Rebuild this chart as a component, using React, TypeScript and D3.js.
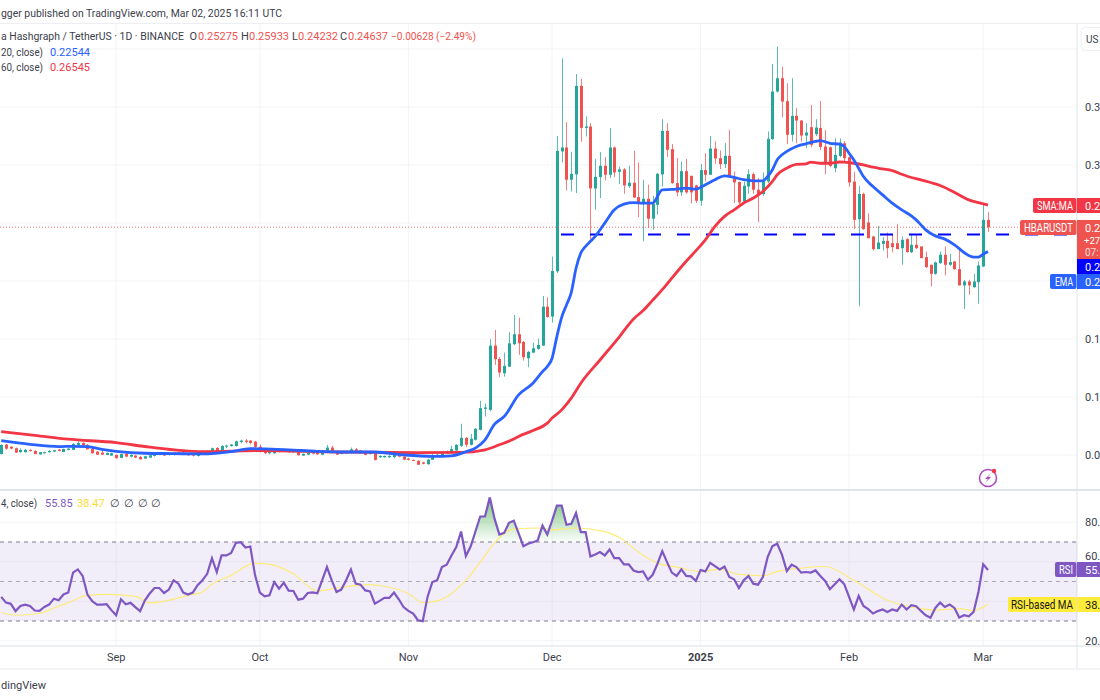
import React from 'react'
import * as d3 from 'd3'

const firstDay = new Date(Date.UTC(2024, 7, 8))

// daily candles, one per day from Aug 8 2024 to Mar 2 2025
const opens = [
  .0509,.0590,.0572,.0558,.0524,.0524,.0544,.0535,.0506,.0515,
  .0524,.0529,.0547,.0526,.0544,.0544,.0587,.0604,.0587,.0552,
  .0529,.0521,.0501,.0495,.0501,.0475,.0512,.0486,.0495,.0483,
  .0469,.0478,.0492,.0512,.0506,.0501,.0501,.0521,.0521,.0509,
  .0506,.0492,.0512,.0515,.0526,.0561,.0532,.0572,.0578,.0578,
  .0613,.0624,.0624,.0615,.0572,.0538,.0515,.0515,.0544,.0532,
  .0549,.0524,.0529,.0495,.0503,.0524,.0524,.0503,.0529,.0564,
  .0532,.0509,.0515,.0526,.0549,.0538,.0524,.0509,.0515,.0481,
  .0481,.0481,.0481,.0503,.0486,.0469,.0458,.0450,.0436,.0421,
  .0459,.0488,.0488,.0516,.0516,.0539,.0579,.0648,.0588,.0631,
  .0717,.0898,.0889,.1443,.1328,.1205,.1262,.1455,.1541,.1475,
  .1334,.1383,.1415,.1443,.1779,.1693,.2083,.3117,.3151,.2873,
  .2919,.3682,.3320,.3332,.2798,.2896,.2993,.2916,.3151,.2941,
  .2962,.2818,.2847,.2723,.2672,.2709,.2537,.2657,.2919,.3294,
  .3137,.2844,.2764,.2947,.2907,.2824,.2692,.2956,.2916,.3142,
  .3059,.3007,.3079,.2896,.2853,.2686,.2815,.2921,.2787,.2749,
  .2858,.3223,.3633,.3748,.3550,.3260,.3424,.3383,.3254,.3326,
  .3266,.3319,.3159,.3153,.2972,.3078,.3187,.3067,.2857,.2533,
  .2751,.2504,.2384,.2275,.2320,.2346,.2326,.2326,.2283,.2361,
  .2249,.2312,.2298,.2206,.2140,.2062,.2154,.2226,.2140,.2168,
  .2102,.1962,.1996,.1947,.1990,.2125,.25275,
]
const highs = [
  .0592,.0595,.0575,.0564,.0558,.0552,.0549,.0541,.0526,.0529,
  .0544,.0544,.0552,.0555,.0561,.0604,.0618,.0610,.0595,.0561,
  .0535,.0538,.0521,.0521,.0503,.0512,.0515,.0506,.0501,.0492,
  .0492,.0503,.0512,.0518,.0512,.0518,.0526,.0526,.0524,.0515,
  .0512,.0521,.0538,.0541,.0564,.0567,.0584,.0590,.0595,.0624,
  .0633,.0638,.0630,.0621,.0592,.0544,.0538,.0552,.0549,.0552,
  .0552,.0541,.0538,.0515,.0524,.0529,.0538,.0544,.0587,.0581,
  .0538,.0532,.0538,.0564,.0561,.0544,.0529,.0526,.0521,.0498,
  .0495,.0498,.0506,.0506,.0492,.0475,.0460,.0456,.0442,.0468,
  .0510,.0516,.0531,.0539,.0579,.0594,.0769,.0654,.0680,.0731,
  .0967,.0944,.1498,.1578,.1343,.1383,.1558,.1707,.1684,.1483,
  .1397,.1469,.1503,.1871,.1859,.2210,.3249,.3920,.3369,.3114,
  .3785,.3742,.3418,.3361,.3053,.3111,.3068,.3317,.3160,.2987,
  .2973,.2993,.3122,.3022,.2873,.2830,.2735,.2930,.3395,.3360,
  .3180,.3059,.3030,.3051,.2907,.2830,.3008,.3102,.3249,.3203,
  .3125,.3188,.3303,.2944,.2858,.2858,.2964,.2936,.2887,.2936,
  .3289,.3871,.4021,.3848,.3705,.3748,.3490,.3389,.3361,.3518,
  .3395,.3552,.3302,.3159,.3230,.3230,.3207,.3072,.2943,.2820,
  .2762,.2584,.2389,.2475,.2378,.2418,.2398,.2490,.2384,.2369,
  .2398,.2398,.2298,.2254,.2140,.2168,.2254,.2298,.2234,.2174,
  .2269,.2010,.2010,.2062,.2168,.2656,.25933,
]
const lows = [
  .0506,.0544,.0549,.0518,.0521,.0521,.0529,.0506,.0503,.0512,
  .0521,.0526,.0532,.0524,.0541,.0541,.0584,.0578,.0547,.0512,
  .0501,.0501,.0498,.0492,.0469,.0472,.0481,.0478,.0472,.0458,
  .0466,.0475,.0486,.0498,.0492,.0495,.0495,.0503,.0503,.0492,
  .0489,.0486,.0506,.0509,.0521,.0524,.0526,.0558,.0572,.0572,
  .0601,.0598,.0592,.0561,.0521,.0509,.0506,.0509,.0521,.0526,
  .0518,.0518,.0495,.0492,.0498,.0506,.0501,.0498,.0524,.0521,
  .0501,.0506,.0509,.0521,.0524,.0512,.0498,.0503,.0452,.0475,
  .0475,.0475,.0475,.0481,.0455,.0452,.0446,.0414,.0420,.0416,
  .0456,.0482,.0482,.0510,.0510,.0533,.0568,.0568,.0582,.0625,
  .0711,.0832,.0875,.1277,.1171,.1176,.1257,.1446,.1363,.1314,
  .1257,.1377,.1406,.1440,.1684,.1641,.2069,.3022,.2781,.2772,
  .2758,.3200,.3246,.2356,.2614,.2715,.2867,.2887,.2896,.2835,
  .2752,.2801,.2715,.2551,.2342,.2456,.2442,.2571,.2815,.3068,
  .2838,.2729,.2735,.2752,.2669,.2672,.2649,.2858,.2916,.3010,
  .2964,.2973,.2896,.2672,.2657,.2672,.2752,.2752,.2508,.2735,
  .2844,.3217,.3625,.3412,.3180,.3203,.3188,.3203,.3145,.3154,
  .3251,.3129,.2920,.2981,.2937,.3067,.3029,.2814,.2447,.1781,
  .2441,.2369,.2263,.2275,.2263,.2197,.2246,.2275,.2140,.2246,
  .2240,.2275,.2197,.2111,.1953,.2054,.2148,.2048,.2131,.2097,
  .1962,.1758,.1881,.1939,.1804,.2120,.24232,
]
const closes = [
  .0587,.0555,.0555,.0521,.0544,.0544,.0535,.0509,.0524,.0524,
  .0535,.0541,.0535,.0552,.0555,.0595,.0604,.0584,.0549,.0515,
  .0503,.0503,.0518,.0515,.0472,.0509,.0486,.0501,.0478,.0463,
  .0489,.0498,.0506,.0501,.0495,.0515,.0521,.0509,.0509,.0498,
  .0495,.0512,.0526,.0532,.0558,.0532,.0578,.0581,.0590,.0618,
  .0624,.0613,.0604,.0570,.0526,.0515,.0529,.0549,.0526,.0547,
  .0524,.0535,.0498,.0509,.0518,.0512,.0506,.0532,.0564,.0526,
  .0503,.0526,.0532,.0549,.0526,.0515,.0501,.0521,.0458,.0492,
  .0492,.0492,.0503,.0486,.0460,.0458,.0452,.0416,.0424,.0459,
  .0493,.0502,.0516,.0531,.0551,.0588,.0648,.0588,.0640,.0726,
  .0904,.0910,.1443,.1326,.1211,.1268,.1463,.1541,.1463,.1343,
  .1389,.1420,.1449,.1779,.1690,.2086,.3122,.3151,.2873,.2924,
  .3682,.3320,.3332,.2798,.2898,.2993,.2916,.3151,.2936,.2962,
  .2824,.2847,.2720,.2672,.2709,.2537,.2663,.2924,.3294,.3131,
  .2844,.2764,.2947,.2764,.2764,.2692,.2956,.2916,.3142,.3056,
  .3007,.3079,.2896,.2850,.2677,.2821,.2921,.2787,.2749,.2858,
  .3226,.3633,.3748,.3547,.3260,.3424,.3383,.3254,.3280,.3174,
  .3323,.3155,.3015,.2992,.3087,.3193,.3058,.2849,.2527,.2751,
  .2447,.2369,.2275,.2332,.2346,.2283,.2292,.2275,.2355,.2249,
  .2312,.2283,.2197,.2120,.2062,.2160,.2226,.2140,.2163,.2102,
  .1962,.1996,.1962,.1996,.2134,.2527,.24637,
]

// moving averages, read at these day numbers (day 0 = firstDay)
const emaDays = [0,6,12,15,18,21,24,30,36,42,48,52,55,60,66,72,78,84,90,94,97,99,101,103,105,108,111,113,114,115,116,117,118,119,120,121,122,123,124,126,128,130,132,134,136,138,140,143,145,147,149,151,153,155,157,159,160,161,162,163,164,166,168,170,171,173,175,176,177,178,179,180,182,184,186,188,190,191,192,193,195,197,199,201,203,204,205,206]
const emaValues = [.0624,.0592,.0572,.0575,.0572,.0549,.0532,.0515,.0512,.0509,.0529,.0555,.0552,.0544,.0532,.0526,.0526,.0501,.0488,.0493,.0528,.0559,.0631,.0766,.0832,.1018,.1119,.1219,.1262,.1334,.1521,.1687,.1793,.1900,.2110,.2241,.2299,.2342,.2385,.2499,.2614,.2663,.2675,.2672,.2672,.2786,.2789,.2801,.2792,.2830,.2873,.2907,.2893,.2873,.2864,.2864,.2901,.2959,.3045,.3088,.3117,.3160,.3183,.3203,.3210,.3187,.3179,.3159,.3101,.3044,.2972,.2900,.2814,.2742,.2671,.2613,.2562,.2527,.2484,.2441,.2389,.2361,.2312,.2246,.2206,.2206,.2231,.22544]
const smaDays = [0,7,14,24,31,42,54,70,87,96,101,104,107,108,111,114,115,117,119,121,125,129,132,134,136,138,140,143,145,147,149,151,153,155,157,159,161,162,164,166,168,169,171,173,175,176,178,180,182,184,186,188,190,192,194,196,198,200,202,204,206]
const smaValues = [.0702,.0670,.0636,.0607,.0567,.0529,.0538,.0526,.0521,.0522,.0545,.0588,.0637,.0660,.0711,.0775,.0818,.0889,.0990,.1119,.1319,.1517,.1673,.1745,.1835,.1925,.2025,.2170,.2260,.2355,.2471,.2557,.2614,.2672,.2715,.2772,.2858,.2916,.2973,.3005,.3010,.3025,.3015,.3015,.3026,.3024,.3015,.3001,.2981,.2966,.2952,.2920,.2892,.2872,.2849,.2823,.2785,.2742,.2699,.2676,.26545]

// RSI, one value per candle
const rsiValues = [
  42.2,39.3,38.7,35.0,37.6,38.3,37.6,35.3,35.1,37.1,
  38.3,41.3,40.5,43.4,44.4,54.5,56.1,52.8,43.4,40.0,
  38.3,38.3,38.5,35.5,32.9,41.0,38.5,39.2,37.0,35.0,
  40.5,43.9,46.7,46.7,44.2,45.9,50.6,48.9,44.4,43.4,
  44.4,48.1,50.6,53.9,61.8,54.8,63.2,63.2,64.4,69.6,
  69.9,67.2,67.7,53.1,44.4,42.5,43.0,49.7,46.4,49.4,
  45.4,45.2,40.8,41.3,44.2,44.5,44.0,50.6,57.3,50.6,
  44.7,45.9,50.6,56.1,48.9,48.4,45.5,45.0,38.8,40.2,
  41.7,41.7,44.4,41.0,37.1,35.1,33.8,30.4,29.9,42.2,
  49.7,50.6,57.3,58.5,63.2,67.4,75.3,62.9,67.7,75.3,
  82.9,83.0,92.6,81.7,73.8,74.6,79.7,80.8,74.5,67.9,
  69.1,69.9,70.8,78.3,73.8,80.8,88.4,88.4,78.7,79.2,
  84.7,75.0,75.0,62.7,63.7,64.9,63.2,66.2,61.8,61.8,
  58.7,58.7,55.6,54.8,55.1,50.9,53.4,59.0,65.4,59.8,
  54.5,52.8,56.1,52.8,52.6,50.3,55.8,55.1,59.5,57.8,
  56.1,57.6,52.3,51.1,46.7,50.6,52.8,48.9,48.4,52.3,
  62.4,67.9,69.1,63.5,55.3,58.5,57.3,54.5,54.8,54.5,
  55.6,52.8,50.3,46.1,48.6,51.1,48.6,42.2,35.8,42.7,
  37.6,36.0,33.8,35.0,35.8,34.6,35.8,35.1,38.3,35.8,
  38.0,37.5,35.1,32.9,31.6,36.6,39.3,37.1,38.3,36.6,
  31.8,32.9,32.4,34.6,44.7,58.7,55.85,
]
const rsiMaDays = [0,3,8,11,14,18,22,28,31,34,39,42,44,48,53,57,61,66,70,77,80,85,88,91,97,100,103,107,113,115,120,125,129,133,137,141,146,150,154,159,162,168,172,178,185,191,195,200,203,206]
const rsiMaValues = [34.3,32.9,33.8,36.6,39.3,43.0,43.5,42.5,39.2,40.0,43.0,44.7,48.6,53.1,59.3,58.2,53.9,45.2,46.7,48.4,47.6,43.9,39.3,40.2,50.6,59.8,69.6,76.6,77.1,76.1,77.1,75.8,72.4,64.9,59.3,57.3,55.1,56.1,53.6,52.9,55.1,57.0,57.6,50.6,40.5,36.6,35.5,36.3,35.3,38.47]

const priceGrid = [0.05, 0.1, 0.15, 0.2, 0.25, 0.3, 0.35, 0.4]
const priceLabels = [0.05, 0.1, 0.15, 0.2, 0.3, 0.35] // 0.25 sits under the tags
const rsiGrid = [20, 40, 60, 80]
const rsiLabels = [20, 80]
const rsiLevels = [70, 50, 30]
const monthTicks = [
  { label: 'Sep', date: new Date(Date.UTC(2024, 8, 1)) },
  { label: 'Oct', date: new Date(Date.UTC(2024, 9, 1)) },
  { label: 'Nov', date: new Date(Date.UTC(2024, 10, 1)) },
  { label: 'Dec', date: new Date(Date.UTC(2024, 11, 1)) },
  { label: '2025', date: new Date(Date.UTC(2025, 0, 1)) },
  { label: 'Feb', date: new Date(Date.UTC(2025, 1, 1)) },
  { label: 'Mar', date: new Date(Date.UTC(2025, 2, 1)) },
]
const hLevel = 0.24

const UP = '#26a69a'
const DOWN = '#ef5350'
const FONT = 'Roboto, sans-serif'
const INK = '#3c404b'
const GRID = '#f3f4f6'
const AXIS_X = 1077

const day = (i: number) => d3.utcDay.offset(firstDay, i)
// the picture ends inside the right axis, only the first characters are seen
const cut = (n: number, digits: number) => n.toFixed(digits).slice(0, 3)

export default function App() {
  const x = d3.scaleUtc().domain([firstDay, day(206)]).range([1.2, 988])
  const y = d3.scaleLinear().domain([0.05, 0.35]).range([455, 107])
  const ry = d3.scaleLinear().domain([30, 70]).range([621, 542])

  const maLine = d3
    .line<number>()
    .x((d) => x(day(d)))
    .curve(d3.curveMonotoneX)
  const ema = maLine.y((_, i) => y(emaValues[i]))(emaDays)
  const sma = maLine.y((_, i) => y(smaValues[i]))(smaDays)
  const rsiMa = maLine.y((_, i) => ry(rsiMaValues[i]))(rsiMaDays)
  const rsiLine = d3
    .line<number>()
    .x((_, i) => x(day(i)))
    .y((d) => ry(d))(rsiValues)
  const rsiArea = d3
    .area<number>()
    .x((_, i) => x(day(i)))
    .y0(ry(70))
    .y1((d) => ry(d))(rsiValues)

  const tag = (
    x0: number,
    top: number,
    h: number,
    fill: string,
    label: string,
    labelWidth: number,
    value: string,
    color = '#fff',
  ) => (
    <g key={label} fontFamily={FONT} fontSize={12}>
      <rect x={x0} y={top} width={AXIS_X - x0 - 0.5} height={h} rx={2} fill={fill} />
      <rect x={AXIS_X} y={top} width={23} height={h} fill={fill} />
      <text
        x={AXIS_X - 4 - labelWidth}
        y={top + h / 2 + 4}
        fill={color}
        textLength={labelWidth}
        lengthAdjust="spacingAndGlyphs"
      >
        {label}
      </text>
      <text x={1085} y={top + h / 2 + 4} fontSize={11} fill={color}>{value}</text>
    </g>
  )

  return (
    <svg
      width={1100}
      height={700}
      viewBox="0 0 1100 700"
      style={{ position: 'fixed', left: 0, top: 0, background: '#fff' }}
    >
      <defs>
        <clipPath id="above70">
          <rect x={0} y={491} width={AXIS_X} height={ry(70) - 491} />
        </clipPath>
        <linearGradient id="obFill" gradientUnits="userSpaceOnUse" x1={0} x2={0} y1={ry(90)} y2={ry(70)}>
          <stop offset="0" stopColor="#4caf50" stopOpacity={0.65} />
          <stop offset="1" stopColor="#4caf50" stopOpacity={0.02} />
        </linearGradient>
      </defs>

      {/* grid */}
      <line x1={0} x2={1100} y1={23.5} y2={23.5} stroke="#eceef2" />
      {priceGrid.map((t) => (
        <line key={t} x1={0} x2={AXIS_X} y1={y(t)} y2={y(t)} stroke={GRID} />
      ))}
      {rsiGrid.map((t) => (
        <line key={t} x1={0} x2={AXIS_X} y1={ry(t)} y2={ry(t)} stroke={GRID} />
      ))}
      {monthTicks.map((m) => (
        <g key={m.label}>
          <line x1={x(m.date)} x2={x(m.date)} y1={24} y2={489} stroke={GRID} />
          <line x1={x(m.date)} x2={x(m.date)} y1={491} y2={645} stroke={GRID} />
        </g>
      ))}

      {/* candles */}
      {closes.map((c, i) => {
        const cx = Math.round(x(day(i))) + 0.5
        const top = y(Math.max(opens[i], c))
        const color = c >= opens[i] ? UP : DOWN
        return (
          <g key={i} fill={color} stroke={color}>
            <line x1={cx} x2={cx} y1={y(highs[i])} y2={y(lows[i])} strokeOpacity={0.75} />
            <rect
              x={cx - 1.5}
              y={top}
              width={3}
              height={Math.max(1, y(Math.min(opens[i], c)) - top)}
              stroke="none"
            />
          </g>
        )
      })}

      {/* last price and drawn level */}
      <line x1={0} x2={1021} y1={y(closes[206])} y2={y(closes[206])} stroke={DOWN} strokeOpacity={0.8} strokeDasharray="1 2" />
      <line x1={561} x2={1068} y1={y(hLevel)} y2={y(hLevel)} stroke="#0000ff" strokeWidth={2} strokeDasharray="13 16" />

      <path d={sma ?? ''} fill="none" stroke="#f23645" strokeWidth={2.8} />
      <path d={ema ?? ''} fill="none" stroke="#2962ff" strokeWidth={2.8} />

      {/* pane separators */}
      <rect x={0} y={489} width={1100} height={2} fill="#e0e3eb" />
      <rect x={0} y={645} width={1100} height={2} fill="#eceef2" />
      <rect x={0} y={668} width={1100} height={2} fill="#f3f4f6" />
      <line x1={AXIS_X} x2={AXIS_X} y1={24} y2={668} stroke="#e0e3eb" />

      {/* RSI pane */}
      <rect x={0} y={ry(70)} width={AXIS_X} height={ry(30) - ry(70)} fill="#7e57c2" fillOpacity={0.1} />
      {rsiLevels.map((t) => (
        <line
          key={t}
          x1={0}
          x2={AXIS_X}
          y1={ry(t)}
          y2={ry(t)}
          stroke="#787b86"
          strokeOpacity={t === 50 ? 0.6 : 1}
          strokeDasharray="4 4"
        />
      ))}
      <path d={rsiArea ?? ''} fill="url(#obFill)" clipPath="url(#above70)" />
      <path d={rsiMa ?? ''} fill="none" stroke="#fdeb7a" strokeWidth={1.2} />
      <path d={rsiLine ?? ''} fill="none" stroke="#7e57c2" strokeWidth={2.2} />

      {/* lightning badge */}
      <g>
        <circle cx={988} cy={478} r={8.5} fill="#fff" stroke="#ab47bc" strokeWidth={1.5} />
        <path d="M991 473 L985 479 L988 479 L985 483 L991 477 L988 477 Z" fill="#ab47bc" />
        <circle cx={994} cy={471} r={2.2} fill="#f23645" />
      </g>

      {/* axis text */}
      <g fontFamily={FONT} fontSize={11} fill={INK}>
        {priceLabels.map((t) => (
          <text key={t} x={1085} y={y(t) + 4}>{cut(t, 5)}</text>
        ))}
        {rsiLabels.map((t) => (
          <text key={t} x={1085} y={ry(t) + 4}>{cut(t, 2)}</text>
        ))}
        <text x={1085} y={560}>{cut(60, 2)}</text>
        {monthTicks.map((m) => (
          <text
            key={m.label}
            x={x(m.date)}
            y={661}
            textAnchor="middle"
            fontWeight={m.label === '2025' ? 700 : 400}
          >
            {m.label}
          </text>
        ))}
      </g>

      {/* price tags */}
      {tag(1033, 198, 15, '#f23645', 'SMA:MA', 36, cut(smaValues[smaValues.length - 1], 5))}
      <g fontFamily={FONT} fontSize={12} fill="#fff">
        <rect x={1020} y={220} width={56.5} height={15} rx={2} fill={DOWN} />
        <rect x={AXIS_X} y={220} width={23} height={39} fill={DOWN} />
        <text x={1024} y={231.5} textLength={49} lengthAdjust="spacingAndGlyphs">HBARUSDT</text>
        <text x={1085} y={231.5} fontSize={11}>{cut(closes[206], 5)}</text>
        <text x={1084} y={244} fontSize={9.5}>+27</text>
        <text x={1085} y={256} fontSize={10} fillOpacity={0.8}>07:</text>
        <rect x={AXIS_X} y={259} width={23} height={15} fill="#0000ff" />
        <text x={1085} y={270.5} fontSize={11}>{cut(hLevel, 5)}</text>
      </g>
      {tag(1050, 274, 15, '#2962ff', 'EMA', 18, cut(emaValues[emaValues.length - 1], 5))}
      {tag(1055, 562, 15, '#7e57c2', 'RSI', 14, cut(rsiValues[206], 2))}
      {tag(1008, 597, 15, '#ffeb3b', 'RSI-based MA', 62, cut(rsiMaValues[rsiMaValues.length - 1], 2), '#131722')}

      {/* USD button */}
      <rect x={1081} y={27.5} width={40} height={23} rx={4} fill="#fff" stroke="#eceef2" />
      <text x={1086} y={43} fontFamily={FONT} fontSize={10} fill={INK}>US</text>

      {/* header and legends, the picture starts part way through these */}
      <g fontFamily={FONT} fontSize={11} fill={INK}>
        <text x={1} y={17} textLength={281} lengthAdjust="spacingAndGlyphs">gger published on TradingView.com, Mar 02, 2025 16:11 UTC</text>
        <text x={1} y={40} textLength={183} lengthAdjust="spacingAndGlyphs">a Hashgraph / TetherUS · 1D · BINANCE</text>
        <text x={189.5} y={40}>O</text>
        <text x={198} y={40} fill={DOWN}>0.25275</text>
        <text x={241} y={40}>H</text>
        <text x={249} y={40} fill={DOWN}>0.25933</text>
        <text x={292} y={40}>L</text>
        <text x={298} y={40} fill={DOWN}>0.24232</text>
        <text x={340} y={40}>C</text>
        <text x={348} y={40} fill={DOWN}>0.24637</text>
        <text x={391} y={40} fill={DOWN} textLength={85} lengthAdjust="spacingAndGlyphs">−0.00628 (−2.49%)</text>
        <text x={1} y={56} textLength={42} lengthAdjust="spacingAndGlyphs">20, close)</text>
        <text x={50} y={56} fill="#2962ff">0.22544</text>
        <text x={1} y={70.5} textLength={42} lengthAdjust="spacingAndGlyphs">60, close)</text>
        <text x={50} y={70.5} fill="#f23645">0.26545</text>
        <text x={1} y={507} textLength={36} lengthAdjust="spacingAndGlyphs">4, close)</text>
        <text x={45} y={507} fill="#7e57c2">55.85</text>
        <text x={77} y={507} fill="#fdd835">38.47</text>
        <text x={110} y={507}>∅</text>
        <text x={124} y={507}>∅</text>
        <text x={138} y={507}>∅</text>
        <text x={151} y={507}>∅</text>
        <text x={1} y={689} textLength={45} lengthAdjust="spacingAndGlyphs">dingView</text>
      </g>
    </svg>
  )
}
